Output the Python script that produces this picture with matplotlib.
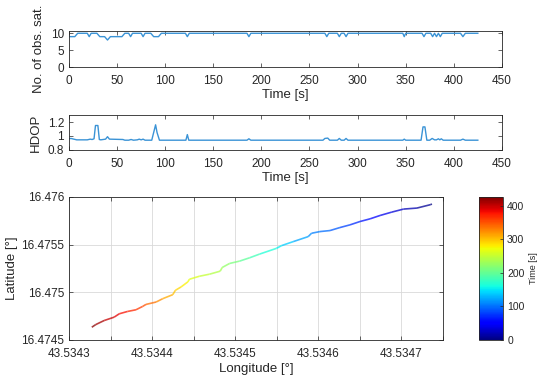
import numpy as np
import matplotlib
matplotlib.use("Agg")
import matplotlib.pyplot as plt
from matplotlib.collections import LineCollection
from matplotlib.ticker import MultipleLocator, FuncFormatter

# number of observed satellites over time
sat_t = [0, 6, 9, 19, 21, 23, 29, 32, 37, 40, 43, 55, 58, 62, 64, 66, 75, 77, 79, 85, 88, 93, 96,
         121, 123, 125, 185, 187, 189, 266, 268, 270, 279, 281, 283, 286, 288, 290, 347, 348.5, 350,
         367, 369, 371, 376, 378, 380, 382, 384, 386, 388, 407, 409.5, 412, 425]
sat_n = [9, 9, 10, 10, 9, 10, 10, 9, 9, 8, 9, 9, 10, 10, 9, 10, 10, 9, 10, 10, 9, 9, 10,
         10, 9, 10, 10, 9, 10, 10, 9, 10, 10, 9, 10, 10, 9, 10, 10, 9, 10,
         10, 9, 10, 10, 9, 10, 9, 10, 9, 10, 10, 9, 10, 10]

# HDOP over time
hdop_t = [0, 2, 5, 8, 19, 22, 24, 26, 27.5, 30, 31.5, 33, 38, 40, 42, 56, 58, 62, 64.5, 67, 71, 73, 75,
          77, 79, 86, 88, 90, 91.5, 94, 121.5, 123, 124.5, 185, 187, 189, 264, 266, 269, 271, 279, 281,
          283, 286, 288, 290, 347, 348.5, 350, 366, 368, 370, 372, 375, 377.5, 380, 382, 384, 385.5,
          387, 389, 407, 409.5, 412, 425]
hdop_v = [0.96, 0.965, 0.955, 0.945, 0.945, 0.955, 0.95, 0.96, 1.15, 1.15, 0.95, 0.945, 0.955, 0.99,
          0.955, 0.95, 0.94, 0.94, 0.95, 0.94, 0.945, 0.955, 0.945, 0.955, 0.94, 0.94, 1.05, 1.16, 1.05,
          0.94, 0.94, 1.02, 0.94, 0.94, 0.96, 0.94, 0.94, 0.965, 0.97, 0.94, 0.94, 0.965, 0.94, 0.94,
          0.965, 0.94, 0.94, 0.955, 0.94, 0.94, 1.13, 1.13, 0.94, 0.94, 0.965, 0.945, 0.945, 0.96,
          0.945, 0.96, 0.94, 0.94, 0.955, 0.94, 0.94]

# track (time order, t=0 at the east end)
trk_t = [0, 3, 14, 25, 36, 47, 56, 65, 75, 85, 95, 102, 110, 115, 130, 148, 155, 175, 190, 205,
         218, 230, 236, 245, 255, 268, 272, 285, 296, 303, 318, 330, 348, 355, 365, 375, 385, 392,
         405, 418, 425]
trk_lon = [43.5347367, 43.5347347, 43.5347186, 43.5347025, 43.5346884, 43.5346743, 43.5346623,
           43.5346502, 43.5346381, 43.5346260, 43.5346140, 43.5346019, 43.5345918, 43.5345878,
           43.5345697, 43.5345556, 43.5345496, 43.5345294, 43.5345174, 43.5345053, 43.5344932,
           43.5344843, 43.5344819, 43.5344690, 43.5344570, 43.5344449, 43.5344429, 43.5344348,
           43.5344280, 43.5344248, 43.5344127, 43.5344047, 43.5343926, 43.5343886, 43.5343805,
           43.5343704, 43.5343604, 43.5343543, 43.5343423, 43.5343322, 43.5343274]
trk_lat = [16.4759261, 16.4759190, 16.4758838, 16.4758732, 16.4758416, 16.4758063, 16.4757711,
           16.4757430, 16.4757078, 16.4756796, 16.4756479, 16.4756373, 16.4756197, 16.4755845,
           16.4755317, 16.4754895, 16.4754613, 16.4754014, 16.4753627, 16.4753275, 16.4753028,
           16.4752606, 16.4752219, 16.4751902, 16.4751690, 16.4751374, 16.4751092, 16.4750564,
           16.4750212, 16.4749754, 16.4749331, 16.4748979, 16.4748733, 16.4748522, 16.4748169,
           16.4747993, 16.4747747, 16.4747395, 16.4747043, 16.4746620, 16.4746339]

plt.rcParams['font.family'] = ['Liberation Sans', 'DejaVu Sans']
txt = '#262626'
line_c = '#3a93d6'

fig = plt.figure(figsize=(5.5, 3.84), dpi=100)


def style(ax, size=8.5):
    for s in ax.spines.values():
        s.set_color(txt)
        s.set_linewidth(0.6)
    ax.tick_params(direction='in', length=3, width=0.5, colors=txt, labelsize=size,
                   top=True, right=True, pad=3.5)
    ax.tick_params(axis='x', pad=5.5)


ax1 = fig.add_axes([0.1255, 0.8255, 0.787, 0.094])
ax1.plot(sat_t, sat_n, color=line_c, lw=1)
ax1.set_xlim(0, 450)
ax1.set_ylim(0, 10.7)
ax1.set_yticks([0, 5, 10])
ax1.xaxis.set_major_locator(MultipleLocator(50))
ax1.set_xlabel('Time [s]', fontsize=9.5, color=txt, labelpad=2)
ax1.set_ylabel('No. of obs. sat.', fontsize=9.5, color=txt, labelpad=4)
style(ax1)

ax2 = fig.add_axes([0.1255, 0.6094, 0.787, 0.0911])
ax2.plot(hdop_t, hdop_v, color=line_c, lw=1)
ax2.set_xlim(0, 450)
ax2.set_ylim(0.8, 1.3)
ax2.set_yticks([0.8, 1.0, 1.2])
ax2.yaxis.set_major_formatter(FuncFormatter(lambda v, p: f"{v:g}"))
ax2.xaxis.set_major_locator(MultipleLocator(50))
ax2.set_xlabel('Time [s]', fontsize=9.5, color=txt, labelpad=2)
ax2.set_ylabel('HDOP', fontsize=9.5, color=txt, labelpad=4)
style(ax2)

ax3 = fig.add_axes([0.1255, 0.1146, 0.68, 0.3724])
pts = np.column_stack([trk_lon, trk_lat])
segs = np.stack([pts[:-1], pts[1:]], axis=1)
seg_t = (np.array(trk_t[:-1]) + np.array(trk_t[1:])) / 2
lc = LineCollection(segs, cmap='jet', linewidths=1.2, alpha=0.75)
lc.set_array(seg_t)
lc.set_clim(0, 426)
ax3.add_collection(lc)
ax3.set_xlim(43.5343, 43.53475)
ax3.set_ylim(16.4745, 16.476)
ax3.xaxis.set_major_locator(MultipleLocator(0.00005))
ax3.yaxis.set_major_locator(MultipleLocator(0.0005))


def lon_fmt(v, p):
    k = int(round(v / 0.00005))
    return f"{v:.4f}" if k % 2 == 0 else ''


ax3.xaxis.set_major_formatter(FuncFormatter(lon_fmt))
ax3.yaxis.set_major_formatter(FuncFormatter(lambda v, p: f"{round(v, 4):g}"))
ax3.grid(True, color='#d9d9d9', lw=0.6)
ax3.set_axisbelow(True)
ax3.set_xlabel('Longitude [°]', fontsize=9.5, color=txt, labelpad=2)
ax3.set_ylabel('Latitude [°]', fontsize=9.5, color=txt, labelpad=2)
style(ax3, 8.5)
ax3.tick_params(axis='x', pad=6)

cax = fig.add_axes([0.8709, 0.1146, 0.0436, 0.3724])
cb = fig.colorbar(lc, cax=cax)
cb.solids.set_alpha(1)
cb.set_ticks([0, 100, 200, 300, 400])
cb.outline.set_edgecolor(txt)
cb.outline.set_linewidth(0.6)
cax.tick_params(direction='in', length=2, width=0.5, colors=txt, labelsize=7.5, pad=3)
cb.set_label('Time [s]', fontsize=6.5, color=txt, labelpad=3)

fig.savefig('out.png', dpi=100)
